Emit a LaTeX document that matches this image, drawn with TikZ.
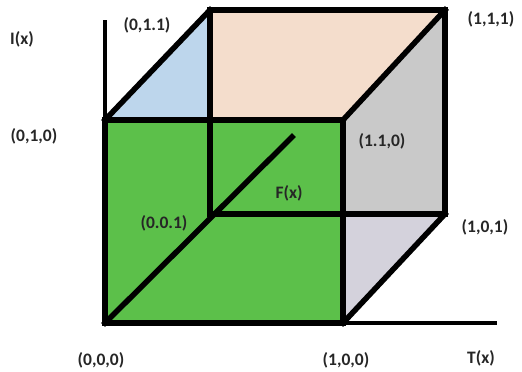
\documentclass[tikz,border=0pt]{standalone}
\usepackage{fontspec}
\setmainfont{Carlito}
\begin{document}
\begin{tikzpicture}[x=1pt,y=-1pt,
  edge/.style={line width=5.5pt,line cap=rect,line join=miter},
  lab/.style={font=\bfseries\fontsize{17.5}{20}\selectfont,text=black!85,inner sep=0pt}]
\useasboundingbox (0,0) rectangle (522,372);
% vertices
\coordinate (O) at (105,323);
\coordinate (A) at (105,120);
\coordinate (B) at (343,323);
\coordinate (C) at (343,120);
\coordinate (D) at (210,10);
\coordinate (E) at (445,10);
\coordinate (G) at (210,214);
\coordinate (H) at (445,214);
\coordinate (P) at (343,214);
\coordinate (Q) at (210,120);
\coordinate (Itop) at (105,22);
\coordinate (Tend) at (495,323);
\coordinate (Fend) at (292,137);
% fills
\fill[fill={rgb,255:red,244;green,221;blue,204}] (Q) -- (D) -- (E) -- (C) -- cycle;
\fill[fill={rgb,255:red,189;green,214;blue,236}] (A) -- (D) -- (Q) -- cycle;
\fill[fill={rgb,255:red,201;green,201;blue,201}] (C) -- (E) -- (H) -- (P) -- cycle;
\fill[fill={rgb,255:red,212;green,210;blue,220}] (P) -- (H) -- (B) -- cycle;
\fill[fill={rgb,255:red,92;green,192;blue,74}] (O) -- (B) -- (C) -- (A) -- cycle;
% edges
\draw[edge] (D) -- (E) -- (H) -- (G) -- cycle;
\draw[edge] (O) -- (B) -- (C) -- (A) -- cycle;
\draw[edge] (A) -- (D);
\draw[edge] (C) -- (E);
\draw[edge] (B) -- (H);
\draw[edge] (O) -- (Fend);
\draw[edge,line width=4.5pt] (Itop) -- (O) -- (Tend);
% labels
\node[lab] (lI) at (22,39) {I(x)};
\node[lab] (l011) at (147,25) {(0,1.1)};
\node[lab] (l010) at (34,136) {(0,1,0)};
\node[lab] (l111) at (491,19) {(1,1,1)};
\node[lab] (l110) at (382,141) {(1.1,0)};
\node[lab] (lF) at (289,193) {F(x)};
\node[lab] (l101) at (485,227) {(1,0,1)};
\node[lab] (l001) at (164,223) {(0.0.1)};
\node[lab] (l000) at (101,360) {(0,0,0)};
\node[lab] (l100) at (346,360) {(1,0,0)};
\node[lab] (lT) at (481,358) {T(x)};
\end{tikzpicture}
\end{document}
